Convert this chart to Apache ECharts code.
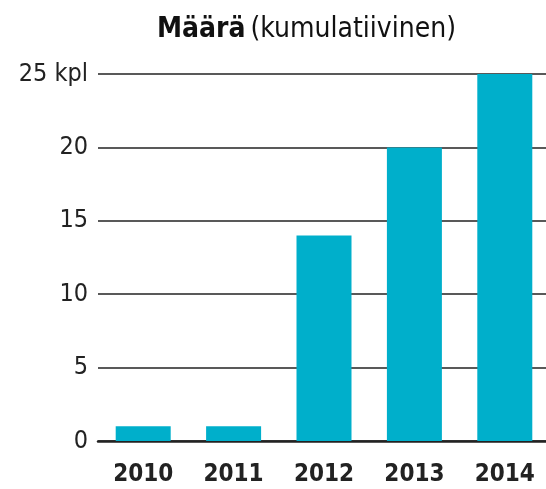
<!DOCTYPE html>
<html>
<head>
<meta charset="utf-8">
<script src="https://cdn.jsdelivr.net/npm/echarts@6/dist/echarts.min.js"></script>
<style>
  html, body { margin: 0; padding: 0; background: #fff; }
</style>
</head>
<body>
<div id="chart" style="width:546px;height:489px;"></div>
<script>
// vuodet ja kumulatiivinen määrä
const years = ['2010', '2011', '2012', '2013', '2014'];
const counts = [1, 1, 14, 20, 25];
const yTicks = [0, 5, 10, 15, 20, 25];

const font = '"Liberation Sans Narrow", "DejaVu Sans Condensed", sans-serif';

const myChart = echarts.init(document.getElementById('chart'));
const option = {
  animation: false,
  title: {
    text: '{b|Määrä} {r|(kumulatiivinen)}',
    left: 152,
    top: 11,
    textStyle: {
      rich: {
        b: { fontFamily: font, fontWeight: 'bold', fontSize: 28, color: '#111' },
        r: { fontFamily: font, fontWeight: 'normal', fontSize: 28, color: '#111' },
      },
    },
  },
  // ruudukko jatkuu oikean reunan yli
  grid: { left: 98, top: 74, width: 452, height: 367, outerBoundsMode: 'none' },
  xAxis: {
    type: 'category',
    data: years,
    axisLine: { lineStyle: { color: '#222', width: 2.5 } },
    axisTick: { show: false },
    axisLabel: {
      interval: 0,
      fontFamily: font, fontWeight: 'bold', fontSize: 24, color: '#222', margin: 22,
    },
  },
  yAxis: {
    type: 'value',
    min: yTicks[0],
    max: yTicks[yTicks.length - 1],
    interval: 5,
    axisLine: { show: false },
    axisTick: { show: false },
    splitLine: { lineStyle: { color: '#222', width: 1.5 } },
    axisLabel: {
      fontFamily: font, fontSize: 25, color: '#222', margin: 10,
      formatter: v => (v === 25 ? '25 kpl' : String(v)),
    },
  },
  series: [
    {
      type: 'bar',
      data: counts,
      barWidth: 55,
      itemStyle: { color: '#00afcb' },
    },
  ],
};
myChart.setOption(option);
</script>
</body>
</html>
